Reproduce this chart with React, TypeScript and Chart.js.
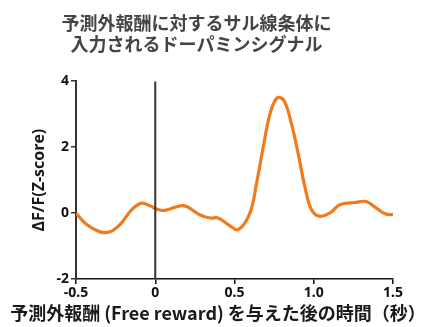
import React, { useEffect, useRef } from "react";
import { Chart, registerables } from "chart.js";

Chart.register(...registerables);

const titleLines = ["予測外報酬に対するサル線条体に", "入力されるドーパミンシグナル"];
const xTitle = "予測外報酬 (Free reward) を与えた後の時間（秒）";
const yTitle = "ΔF/F(Z-score)";

const timeSec = [-0.5, -0.433, -0.349, -0.286, -0.223, -0.149, -0.086, -0.033, 0.009, 0.061, 0.156, 0.198, 0.28, 0.345, 0.397, 0.46, 0.523, 0.597, 0.639, 0.681, 0.723, 0.755, 0.782, 0.818, 0.86, 0.902, 0.944, 0.986, 1.038, 1.1, 1.165, 1.26, 1.33, 1.396, 1.45, 1.5];
const zScore = [0, -0.35, -0.57, -0.57, -0.35, 0.1, 0.3, 0.22, 0.12, 0.08, 0.22, 0.2, -0.05, -0.15, -0.15, -0.35, -0.5, 0, 0.9, 2.0, 3.0, 3.41, 3.51, 3.36, 2.7, 1.8, 0.8, 0.1, -0.1, 0, 0.25, 0.32, 0.35, 0.15, -0.02, -0.05];

const onsetX = [0, 0];
const onsetY = [-2, 4];

const xMin = -0.5, xMax = 1.5, xStep = 0.5;
const yMin = -2, yMax = 4, yStep = 2;

const JP = "'Noto Sans CJK JP', 'Noto Sans', sans-serif";

export default function App() {
  const ref = useRef<HTMLCanvasElement>(null);
  useEffect(() => {
    document.body.style.margin = "0";
    const ctx = ref.current!;
    const xTitlePlugin = {
      id: "xTitlePlugin",
      afterDraw(chart: any) {
        const c = chart.ctx;
        c.save();
        c.font = `bold 18px ${JP}`;
        c.fillStyle = "#1a1a1a";
        c.textAlign = "center";
        c.textBaseline = "middle";
        c.fillText(xTitle, 218, 313);
        c.restore();
      },
    };
    const chart = new Chart(ctx, {
      type: "line",
      data: {
        datasets: [
          {
            data: onsetX.map((x, i) => ({ x, y: onsetY[i] })),
            borderColor: "#3a3232",
            borderWidth: 2,
            pointRadius: 0,
            tension: 0,
          },
          {
            data: timeSec.map((x, i) => ({ x, y: zScore[i] })),
            borderColor: "#F07A1C",
            borderWidth: 3.2,
            pointRadius: 0,
            tension: 0.4,
          },
        ],
      },
      plugins: [xTitlePlugin],
      options: {
        animation: false,
        responsive: false,
        devicePixelRatio: 1,
        layout: { padding: { left: 0, right: 34, top: 0, bottom: 0 } },
        plugins: {
          legend: { display: false },
          tooltip: { enabled: false },
          title: {
            display: true,
            text: titleLines,
            color: "#444",
            font: { size: 18, weight: "bold", family: JP, lineHeight: 1.2 },
            padding: { top: 12, bottom: 26 },
          },
        },
        scales: {
          x: {
            type: "linear",
            min: xMin,
            max: xMax,
            ticks: {
              stepSize: xStep,
              color: "#111",
              font: { size: 14, weight: "bold", family: "'Liberation Sans Narrow', 'Noto Sans', sans-serif" },
              padding: 1,
              maxRotation: 0,
            },
            grid: { display: true, drawOnChartArea: false, drawTicks: true, tickLength: 5, color: "#111", lineWidth: 1.5 },
            border: { display: true, color: "#111", width: 1.5 },
            afterFit(scale: any) {
              scale.height = 48;
            },
          },
          y: {
            type: "linear",
            min: yMin,
            max: yMax,
            ticks: {
              stepSize: yStep,
              color: "#111",
              font: { size: 14, weight: "bold", family: "'Liberation Sans Narrow', 'Noto Sans', sans-serif" },
              padding: 2,
            },
            grid: { display: true, drawOnChartArea: false, drawTicks: true, tickLength: 5, color: "#3a3232", lineWidth: 1.5 },
            border: { display: true, color: "#3a3232", width: 2 },
            title: {
              display: true,
              text: yTitle,
              color: "#1a1a1a",
              font: { size: 16, weight: "bold", family: "'Open Sans', 'Noto Sans', sans-serif" },
              padding: { top: 30, bottom: 0 },
            },
            afterFit(scale: any) {
              scale.width = 76;
            },
          },
        },
      },
    } as any);
    return () => chart.destroy();
  }, []);
  return (
    <div style={{ position: "absolute", left: 0, top: 0, width: 427, height: 327, background: "#fff" }}>
      <canvas ref={ref} width={427} height={327} style={{ width: 427, height: 327 }} />
    </div>
  );
}
